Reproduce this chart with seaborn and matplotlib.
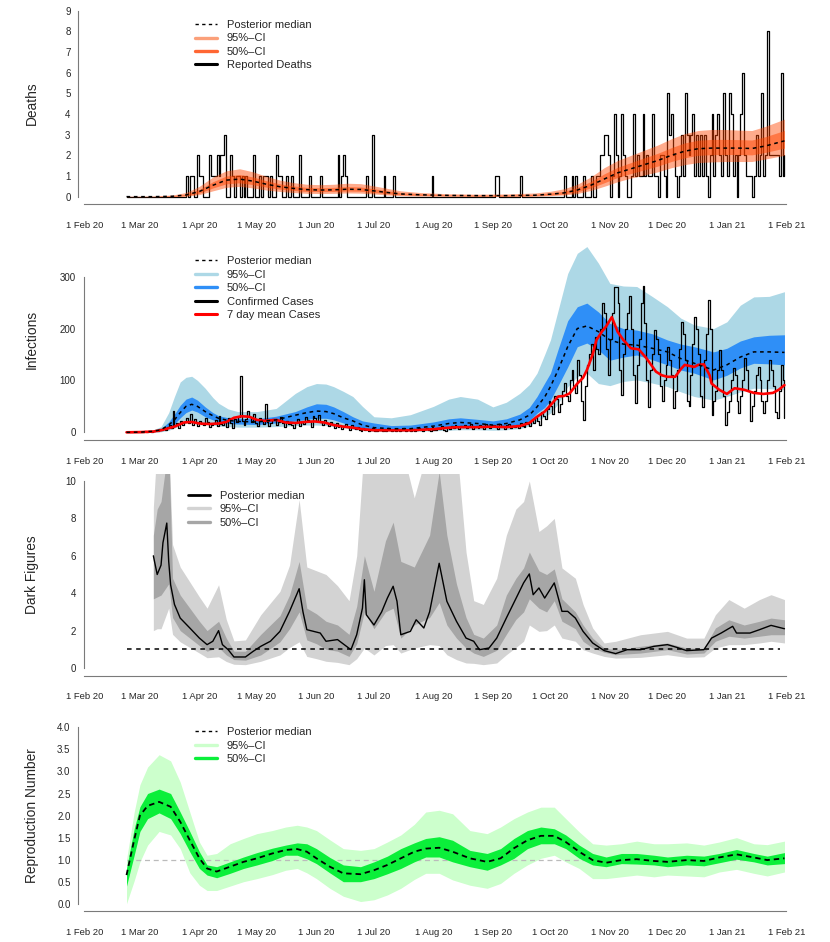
import matplotlib
matplotlib.use("Agg")
import matplotlib.pyplot as plt
import matplotlib.dates as mdates
from matplotlib.lines import Line2D
import numpy as np
import pandas as pd
import seaborn as sns

sns.set_style("white")
plt.rcParams["font.family"] = ["Liberation Sans", "DejaVu Sans"]

# x values are days since 1 Feb 2020
START = pd.Timestamp("2020-02-01")

# ---- Deaths panel ----
deaths_reported = [  # daily, from 23 Feb 2020
    0, 0, 0, 0, 0, 0, 0, 0, 0, 0, 0, 0, 0, 0, 0, 0, 0, 0, 0, 0, 0, 0, 0, 0, 0, 0, 0, 0, 0, 0, 0,
    1, 0, 1, 1, 0, 0, 2, 1, 1, 0, 0, 0, 2, 1, 1, 1, 2, 1, 2, 2, 3, 0, 0, 2, 1, 0, 1, 1, 0, 1,
    0, 1, 0, 0, 0, 2, 0, 0, 1,
    0, 1, 1, 1, 0, 1, 0, 0, 2, 1, 1, 0, 0, 1, 0, 0, 1, 0, 0, 0,
    2, 0, 0, 0, 0, 1, 0, 0, 0, 0, 0, 1, 0, 0, 0, 0, 0, 0, 0, 0,
    2, 0, 1, 2, 1, 0, 0, 0, 0, 0, 0, 0, 0, 0, 0, 1, 0, 0, 3, 0,
    0, 0, 0, 0, 1, 0, 0, 0, 0, 1, 0, 0, 0, 0, 0, 0, 0, 0, 0, 0,
    0, 0, 0, 0, 0, 0, 0, 0, 0, 1, 0, 0, 0, 0, 0, 0, 0, 0, 0, 0,
    0, 0, 0, 0, 0, 0, 0, 0, 0, 0, 0, 0, 0, 0, 0, 0, 0, 0, 0, 0,
    0, 0, 1, 1, 0, 0, 0, 0, 0, 0, 0, 0, 0, 0, 0, 1, 0, 0, 0, 0,
    0, 0, 0, 0, 0, 0, 0, 0, 0, 0, 0, 0, 0, 0, 0, 0, 0, 0, 1, 0,
    0, 0, 1, 0, 1, 0, 0, 0, 1, 0, 0, 0, 1, 0,
    0, 1, 1, 2, 2, 3, 3, 2, 0, 1, 4, 2, 0, 1, 4, 2, 1, 0, 0, 1,
    4, 1, 2, 1, 1, 4, 1, 2, 1, 1, 4, 1, 1, 0, 2, 2, 1, 0, 5, 3,
    4, 2, 1, 0, 1, 3, 1, 5, 3, 2, 3, 4, 1, 3, 1, 3, 1, 3, 1, 0,
    2, 4, 1, 3, 4, 2, 1, 5, 2, 1, 5, 4, 1, 2, 0, 2, 4, 6, 2, 1,
    1, 1, 0, 1, 3, 1, 2, 5, 1, 2, 8, 2, 2, 2, 2, 2, 1, 6, 1, 2,
]
death_days = [22, 36, 46, 53, 60, 67, 74, 81, 88, 95, 102, 109, 116, 123, 130, 137, 144,
              151, 158, 165, 175, 190, 205, 220, 235, 243, 250, 257, 264, 271, 278, 285,
              292, 299, 306, 313, 320, 327, 334, 341, 348, 355, 365]
death_med = [0.0, 0.0, 0.02, 0.08, 0.25, 0.55, 0.8, 0.85, 0.75, 0.6, 0.48, 0.4, 0.34, 0.32,
             0.33, 0.36, 0.35, 0.28, 0.2, 0.13, 0.09, 0.06, 0.05, 0.05, 0.07, 0.12, 0.18,
             0.32, 0.55, 0.85, 1.15, 1.35, 1.55, 1.75, 2.0, 2.2, 2.32, 2.35, 2.35, 2.35,
             2.33, 2.45, 2.7]
death_hi95 = [0.02, 0.03, 0.08, 0.2, 0.5, 0.95, 1.25, 1.35, 1.2, 0.98, 0.8, 0.68, 0.6, 0.58,
              0.6, 0.65, 0.63, 0.52, 0.4, 0.28, 0.2, 0.14, 0.12, 0.13, 0.18, 0.26, 0.38,
              0.6, 0.95, 1.4, 1.75, 2.0, 2.25, 2.5, 2.8, 3.05, 3.2, 3.25, 3.25, 3.22, 3.2,
              3.4, 3.75]
death_lo95 = [0.0, 0.0, 0.0, 0.02, 0.1, 0.28, 0.45, 0.5, 0.42, 0.32, 0.25, 0.2, 0.16, 0.15,
              0.16, 0.18, 0.17, 0.13, 0.08, 0.05, 0.03, 0.02, 0.01, 0.01, 0.02, 0.05, 0.08,
              0.15, 0.3, 0.5, 0.72, 0.9, 1.05, 1.2, 1.4, 1.55, 1.65, 1.68, 1.7, 1.7, 1.7,
              1.82, 2.0]
death_hi50 = [0.01, 0.01, 0.04, 0.12, 0.35, 0.72, 1.0, 1.07, 0.95, 0.77, 0.62, 0.52, 0.45,
              0.43, 0.45, 0.49, 0.47, 0.38, 0.29, 0.19, 0.14, 0.09, 0.08, 0.08, 0.11, 0.18,
              0.26, 0.44, 0.73, 1.1, 1.42, 1.65, 1.88, 2.1, 2.37, 2.6, 2.73, 2.77, 2.77,
              2.76, 2.74, 2.9, 3.2]
death_lo50 = [0.0, 0.0, 0.01, 0.05, 0.17, 0.42, 0.62, 0.67, 0.58, 0.46, 0.36, 0.3, 0.25,
              0.24, 0.25, 0.27, 0.26, 0.2, 0.14, 0.09, 0.06, 0.04, 0.03, 0.03, 0.05, 0.08,
              0.13, 0.23, 0.42, 0.67, 0.93, 1.12, 1.3, 1.48, 1.7, 1.88, 2.0, 2.03, 2.04,
              2.04, 2.02, 2.14, 2.35]

# ---- Infections panel ----
cases_confirmed = [  # daily, from 23 Feb 2020, one row per week
    0, 0, 0, 0, 1, 0, 0,
    1, 0, 2, 1, 3, 2, 1,
    3, 5, 2, 6, 4, 8, 5,
    10, 14, 8, 41, 12, 18, 9,
    22, 15, 20, 28, 18, 35, 14,
    25, 18, 12, 22, 16, 14, 28,
    20, 10, 15, 18, 24, 12, 32,
    16, 14, 22, 10, 28, 18, 8,
    25, 20, 30, 108, 22, 14, 26,
    42, 30, 20, 35, 18, 12, 28,
    22, 16, 55, 20, 12, 18, 26,
    24, 14, 20, 30, 18, 10, 22,
    16, 20, 14, 8, 18, 26, 12,
    20, 16, 30, 24, 22, 10, 32,
    28, 22, 33, 20, 14, 24, 18,
    12, 20, 16, 8, 18, 10, 14,
    6, 12, 16, 10, 4, 14, 8,
    6, 10, 4, 2, 8, 4, 6,
    2, 4, 8, 3, 2, 6, 4,
    2, 6, 3, 8, 4, 2, 5,
    3, 6, 2, 4, 8, 3, 5,
    4, 2, 6, 3, 5, 8, 4,
    3, 6, 8, 4, 2, 10, 5,
    4, 8, 6, 12, 5, 3, 9,
    7, 12, 8, 14, 10, 6, 12,
    10, 15, 8, 12, 16, 6, 10,
    12, 8, 14, 10, 6, 16, 12,
    8, 12, 14, 10, 6, 16, 10,
    12, 6, 14, 16, 8, 12, 10,
    14, 8, 18, 12, 10, 20, 16,
    12, 24, 18, 30, 22, 14, 40,
    32, 25, 45, 60, 50, 35, 70,
    65, 40, 55, 80, 95, 70, 60,
    100, 120, 90, 75, 140, 110, 60,
    24, 90, 130, 150, 170, 120, 184,
    160, 150, 200, 249, 230, 160, 110,
    180, 230, 280, 280, 250, 120, 72,
    150, 200, 230, 263, 200, 110, 56,
    130, 180, 250, 282, 210, 100, 49,
    120, 150, 197, 180, 150, 90, 60,
    100, 130, 165, 140, 110, 46, 80,
    120, 160, 213, 190, 140, 60, 50,
    110, 170, 222, 200, 150, 70, 49,
    140, 190, 255, 200, 33, 60, 80,
    120, 159, 120, 70, 14, 40, 60,
    100, 123, 110, 60, 37, 70, 100,
    143, 120, 80, 22, 50, 80, 110,
    126, 100, 60, 37, 60, 100, 139,
    120, 90, 40, 27, 80, 130, 100,
    27,
]
mean7_days = [22, 30, 36, 40, 44, 47, 52, 56, 60, 65, 70, 74, 78, 82, 86, 90, 94, 100, 105,
              110, 115, 120, 125, 130, 135, 140, 145, 151, 160, 170, 182, 190, 196, 205,
              213, 220, 227, 232, 236, 240, 243, 247, 250, 253, 257, 260, 262, 265, 267,
              270, 272, 275, 278, 281, 285, 289, 293, 298, 301, 304, 308, 311, 313, 318,
              320, 323, 326, 327, 331, 335, 339, 344, 349, 354, 359, 362, 365]
mean7_cases = [0, 0.5, 1.5, 4, 8, 11, 19, 20, 17, 16, 17, 20, 28, 31, 30, 24, 22, 24, 19,
               18, 20, 21, 19, 14, 11, 9, 6, 4, 4, 4, 6, 9, 10, 10, 11, 10, 12, 18, 30, 40,
               52, 69, 70, 75, 94, 105, 120, 150, 178, 195, 204, 222, 194, 178, 162, 160,
               143, 117, 110, 107, 107, 122, 130, 126, 130, 131, 110, 94, 82, 74, 85, 82,
               76, 74, 76, 82, 91]
inf_days = [22, 30, 36, 40, 44, 47, 50, 53, 56, 59, 63, 67, 70, 75, 80, 90, 100, 110, 116,
            121, 126, 130, 135, 140, 145, 151, 160, 170, 182, 190, 196, 205, 213, 220, 227,
            232, 236, 240, 243, 247, 252, 257, 262, 268, 274, 281, 288, 296, 304, 311, 318,
            328, 335, 342, 349, 357, 365]
inf_med = [0, 0.5, 2, 5, 14, 24, 38, 50, 54, 50, 40, 32, 27, 23, 21, 20, 24, 33, 38, 41,
           40, 36, 28, 22, 14, 9, 7, 7, 12, 17, 19, 17, 14, 17, 24, 33, 49, 68, 88, 120,
           165, 200, 205, 194, 178, 170, 168, 162, 155, 142, 133, 120, 130, 145, 155, 155,
           154]
inf_lo50 = [0, 0.3, 1, 3, 9, 16, 28, 38, 43, 39, 30, 24, 20, 17, 16, 15, 18, 22, 25, 27,
            27, 24, 18, 12, 8, 5, 4, 4, 7, 10, 12, 11, 9, 11, 15, 22, 37, 48, 62, 90, 126,
            165, 172, 159, 139, 145, 149, 140, 130, 120, 114, 101, 110, 124, 133, 132, 130]
inf_hi50 = [0, 1, 3, 7, 20, 35, 52, 64, 68, 62, 49, 38, 32, 28, 27, 26, 31, 40, 49, 55, 54,
            49, 40, 30, 22, 18, 13, 14, 20, 26, 28, 25, 22, 26, 35, 48, 69, 95, 114, 160,
            215, 242, 249, 232, 210, 200, 197, 190, 178, 170, 165, 155, 162, 176, 184, 187,
            188]
inf_lo95 = [0, 0.1, 0.5, 1, 4, 8, 14, 19, 22, 20, 17, 14, 12, 11, 10, 10, 11, 13, 14, 14,
            13, 11, 9, 6, 4, 2, 2, 2, 3, 4, 5, 5, 4, 5, 7, 12, 22, 30, 37, 55, 88, 107, 114,
            94, 90, 98, 101, 95, 88, 78, 69, 62, 69, 78, 85, 84, 82]
inf_hi95 = [0, 2, 5, 11, 38, 69, 97, 106, 108, 100, 85, 67, 56, 45, 40, 40, 46, 75, 88, 94,
            93, 88, 79, 69, 50, 30, 28, 34, 50, 64, 69, 64, 49, 58, 75, 92, 114, 150, 178,
            235, 306, 345, 358, 326, 287, 282, 281, 262, 242, 220, 207, 200, 213, 245, 261,
            262, 271]

# ---- Dark figures panel ----
dark_days = [36, 38, 40, 41, 43, 44, 45, 47, 50, 55, 60, 64, 67, 70, 72, 75, 78, 84, 88, 92,
             97, 102, 107, 112, 114, 116, 123, 126, 132, 139, 142, 145, 146, 147, 151, 155,
             158, 161, 163, 165, 170, 173, 177, 180, 185, 189, 194, 199, 203, 206, 211, 215,
             220, 226, 229, 232, 234, 237, 240, 245, 249, 252, 256, 260, 265, 271, 277, 283,
             290, 297, 304, 309, 314, 323, 327, 332, 338, 340, 347, 352, 358, 365]
dark_med = [6.0, 5.0, 5.5, 6.7, 7.75, 5.7, 4.45, 3.4, 2.67, 2.14, 1.6, 1.25, 1.43, 2.0, 1.25,
            0.98, 0.59, 0.59, 0.89, 1.16, 1.43, 1.96, 3.03, 4.24, 3.0, 2.05, 1.87, 1.43, 1.52,
            0.98, 1.78, 3.2, 4.72, 2.85, 2.3, 3.0, 3.74, 4.37, 3.57, 1.78, 1.96, 2.58, 2.14,
            3.0, 5.6, 3.57, 2.5, 1.6, 1.43, 0.98, 1.07, 1.6, 2.67, 3.92, 4.55, 5.03, 3.92,
            4.28, 3.74, 4.55, 3.03, 3.03, 2.67, 1.96, 1.34, 0.93, 0.77, 0.98, 0.98, 1.16,
            1.25, 1.1, 0.93, 0.98, 1.6, 1.87, 2.23, 1.87, 1.87, 2.05, 2.28, 2.1]
dark_band_days = [36, 38, 40, 44, 46, 50, 55, 60, 64, 70, 74, 78, 84, 92, 102, 107, 112, 116,
                  121, 126, 132, 138, 142, 146, 151, 157, 161, 165, 172, 180, 185, 189, 194,
                  199, 203, 208, 215, 220, 225, 229, 232, 237, 241, 245, 249, 256, 260, 265,
                  271, 277, 290, 304, 314, 323, 329, 336, 344, 352, 358, 365]
dark_hi95 = [8.6, 12, 12, 12, 6.6, 5.4, 4.6, 3.8, 3.2, 4.45, 2.6, 1.45, 1.5, 2.85, 4.1, 5.5,
             9.0, 5.4, 5.2, 5.0, 4.4, 3.6, 6.0, 12, 12, 12, 12, 12, 9.1, 12, 12, 12, 12, 6.2,
             3.6, 3.4, 4.8, 7.1, 8.5, 8.9, 10.0, 7.3, 7.6, 8.0, 5.35, 4.8, 3.4, 2.14, 1.34,
             1.43, 1.78, 1.96, 1.6, 1.6, 2.85, 3.66, 3.2, 3.66, 3.92, 3.66]
dark_hi50 = [7.1, 8.5, 8.9, 12, 4.8, 3.9, 3.2, 2.5, 2.0, 2.5, 1.6, 0.9, 0.9, 1.8, 2.8, 3.9,
             5.7, 3.2, 2.9, 2.5, 2.3, 1.8, 3.3, 6.0, 4.1, 6.8, 7.8, 5.7, 5.4, 7.1, 10.5, 7.1,
             4.5, 2.7, 1.8, 1.6, 2.3, 3.9, 4.8, 5.35, 6.2, 5.2, 5.0, 5.3, 3.7, 3.0, 2.3, 1.6,
             1.07, 0.98, 1.16, 1.34, 1.07, 1.05, 2.14, 2.58, 2.3, 2.5, 2.67, 2.58]
dark_lo50 = [3.7, 3.8, 3.9, 4.5, 2.7, 2.0, 1.6, 1.2, 0.9, 1.1, 0.7, 0.45, 0.42, 0.7, 1.4, 2.1,
             3.0, 1.5, 1.3, 1.0, 0.9, 0.62, 1.3, 3.0, 2.1, 3.0, 3.2, 1.6, 2.3, 2.7, 3.5, 2.3,
             1.6, 1.07, 0.8, 0.62, 0.95, 1.8, 2.6, 3.0, 3.7, 3.2, 3.0, 3.6, 2.5, 2.1, 1.43,
             1.07, 0.84, 0.71, 0.8, 0.98, 0.75, 0.8, 1.43, 1.7, 1.6, 1.7, 1.78, 1.78]
dark_lo95 = [2.0, 2.1, 2.1, 3.2, 1.8, 1.4, 1.1, 0.8, 0.55, 0.6, 0.35, 0.2, 0.18, 0.36, 0.7,
             1.1, 1.4, 0.62, 0.5, 0.36, 0.3, 0.18, 0.5, 1.07, 0.7, 1.2, 1.25, 0.8, 1.07, 1.25,
             1.2, 0.71, 0.45, 0.27, 0.25, 0.18, 0.27, 0.71, 1.1, 1.43, 2.3, 1.96, 2.0, 2.3,
             1.6, 1.43, 0.98, 0.8, 0.62, 0.53, 0.57, 0.71, 0.57, 0.6, 1.07, 1.25, 1.25, 1.34,
             1.43, 1.34]

# ---- Reproduction number panel ----
r_days = [22, 26, 29, 33, 39, 45, 50, 55, 60, 64, 69, 76, 83, 90, 98, 105, 111, 116, 121,
          128, 135, 144, 151, 158, 165, 172, 178, 185, 192, 201, 210, 217, 224, 231, 238,
          245, 251, 258, 265, 272, 280, 288, 297, 304, 314, 323, 331, 340, 349, 356, 365]
r_med = [0.65, 1.45, 2.0, 2.22, 2.31, 2.2, 1.86, 1.44, 1.03, 0.8, 0.73, 0.84, 0.95, 1.03,
         1.14, 1.22, 1.24, 1.18, 1.03, 0.84, 0.69, 0.67, 0.76, 0.88, 1.03, 1.18, 1.25, 1.27,
         1.18, 1.03, 0.95, 1.03, 1.26, 1.44, 1.54, 1.54, 1.4, 1.18, 0.99, 0.93, 0.99, 1.01,
         0.97, 0.95, 0.99, 0.97, 1.05, 1.12, 1.05, 0.99, 1.03]
r_hi95 = [1.0, 2.08, 2.7, 3.1, 3.38, 3.24, 2.76, 2.08, 1.4, 1.1, 1.14, 1.36, 1.48, 1.59,
          1.66, 1.74, 1.78, 1.74, 1.66, 1.45, 1.25, 1.21, 1.25, 1.4, 1.56, 1.8, 2.08, 2.12,
          2.04, 1.66, 1.59, 1.74, 1.93, 2.08, 2.19, 2.19, 1.93, 1.63, 1.36, 1.33, 1.36,
          1.42, 1.36, 1.36, 1.38, 1.33, 1.4, 1.5, 1.36, 1.34, 1.42]
r_hi50 = [0.8, 1.7, 2.2, 2.5, 2.6, 2.5, 2.08, 1.64, 1.18, 0.88, 0.84, 0.95, 1.06, 1.16, 1.26,
          1.33, 1.38, 1.36, 1.25, 1.05, 0.88, 0.84, 0.95, 1.08, 1.25, 1.38, 1.48, 1.52, 1.44,
          1.21, 1.14, 1.25, 1.48, 1.66, 1.74, 1.7, 1.56, 1.33, 1.14, 1.06, 1.14, 1.14, 1.1,
          1.06, 1.1, 1.08, 1.14, 1.23, 1.14, 1.08, 1.16]
r_lo50 = [0.4, 1.1, 1.64, 1.93, 2.06, 1.93, 1.59, 1.18, 0.8, 0.65, 0.59, 0.69, 0.8, 0.88,
          0.98, 1.1, 1.1, 1.02, 0.91, 0.7, 0.5, 0.5, 0.57, 0.68, 0.8, 0.95, 1.06, 1.06, 0.95,
          0.84, 0.76, 0.88, 1.03, 1.25, 1.36, 1.36, 1.25, 1.03, 0.88, 0.84, 0.91, 0.9, 0.88,
          0.84, 0.88, 0.86, 0.93, 1.01, 0.95, 0.88, 0.91]
r_lo95 = [0.0, 0.52, 0.95, 1.33, 1.64, 1.56, 1.25, 0.7, 0.42, 0.3, 0.3, 0.4, 0.5, 0.57, 0.66,
          0.76, 0.8, 0.7, 0.57, 0.35, 0.17, 0.05, 0.09, 0.2, 0.35, 0.55, 0.69, 0.69, 0.54,
          0.42, 0.35, 0.46, 0.69, 0.88, 1.03, 1.1, 0.95, 0.8, 0.57, 0.57, 0.61, 0.65, 0.61,
          0.65, 0.63, 0.61, 0.72, 0.78, 0.69, 0.63, 0.72]

month_ticks = pd.date_range("2020-02-01", "2021-02-01", freq="MS")
month_labels = [f"{d.day} {d:%b %y}" for d in month_ticks]


def to_dates(days):
    return START + pd.to_timedelta(np.asarray(days, dtype=float), unit="D")


W, H = 830, 942
fig = plt.figure(figsize=(W / 100, H / 100), dpi=100)
left, width = 78.3 / W, 735.7 / W
ax1 = fig.add_axes([left, 1 - 204.1 / H, width, 200.9 / H])
ax2 = fig.add_axes([left, 1 - 440.0 / H, width, 200.7 / H])
ax3 = fig.add_axes([left, 1 - 675.5 / H, width, 202.0 / H])
ax4 = fig.add_axes([left, 1 - 910.8 / H, width, 190.5 / H])

AXCOL = "#7a7a7a"
DASH = (0, (2.4, 2.4))


def style_axis(ax, yticks, ylim, ylabel, ylabels=None, spine_day=None):
    ax.set_xlim(START - pd.Timedelta(days=3.13), START + pd.Timedelta(days=380.4))
    ax.set_ylim(*ylim)
    ax.set_xticks(month_ticks)
    ax.set_xticklabels(month_labels)
    ax.set_yticks(yticks)
    if ylabels is not None:
        ax.set_yticklabels(ylabels)
    for s in ["top", "right"]:
        ax.spines[s].set_visible(False)
    for s in ["left", "bottom"]:
        ax.spines[s].set_color(AXCOL)
        ax.spines[s].set_linewidth(0.8)
    ax.spines["bottom"].set_bounds(mdates.date2num(month_ticks[0]), mdates.date2num(month_ticks[-1]))
    ax.spines["left"].set_bounds(yticks[0], yticks[-1])
    if spine_day is not None:
        ax.spines["left"].set_position(("data", mdates.date2num(START + pd.Timedelta(days=spine_day))))
    ax.tick_params(axis="x", length=4.8, width=0.8, color=AXCOL, pad=7.4, labelsize=6.8)
    ax.tick_params(axis="y", length=4.1, width=0.8, color=AXCOL, pad=1.5, labelsize=7.0)
    ax.set_xlabel("")
    ax.set_ylabel(ylabel, fontsize=9.9)
    ax.yaxis.set_label_coords(-0.054, 0.5)
    ax.grid(False)


def add_legend(ax, handles, labels, x_px, y_px):
    ax.legend(handles, labels, loc="upper left", bbox_to_anchor=(x_px / W, 1 - y_px / H),
              bbox_transform=fig.transFigure, frameon=False, fontsize=8, handlelength=1.95,
              handletextpad=0.9, labelspacing=0.31, borderpad=0, borderaxespad=0)


# Deaths
ORANGE = "#FF4500"
sns.lineplot(x=to_dates(np.arange(22, 22 + len(deaths_reported))), y=deaths_reported, ax=ax1,
             drawstyle="steps-post", color="black", lw=0.9, errorbar=None, zorder=1)
dd = to_dates(death_days)
ax1.fill_between(dd, death_lo95, death_hi95, color=ORANGE, alpha=0.45, lw=0, zorder=1.5)
ax1.fill_between(dd, death_lo50, death_hi50, color=ORANGE, alpha=0.5, lw=0, zorder=1.6)
ax1.plot(dd, death_med, color="black", lw=1.1, ls=DASH, zorder=3)
style_axis(ax1, list(range(0, 10)), (-0.36, 9.36), "Deaths")
add_legend(ax1,
           [Line2D([], [], color="black", lw=1, ls=DASH),
            Line2D([], [], color="#FBA07A", lw=2.4),
            Line2D([], [], color="#FF6633", lw=2.4),
            Line2D([], [], color="black", lw=2.2)],
           ["Posterior median", "95%\u2013CI", "50%\u2013CI", "Reported Deaths"], 195, 20.0)

# Infections
idd = to_dates(inf_days)
ax2.fill_between(idd, inf_lo95, inf_hi95, color="#ADD8E6", lw=0, zorder=1)
ax2.fill_between(idd, inf_lo50, inf_hi50, color="#2F8FF7", lw=0, zorder=1.1)
sns.lineplot(x=to_dates(np.arange(22, 22 + len(cases_confirmed))), y=cases_confirmed, ax=ax2,
             drawstyle="steps-post", color="black", lw=0.9, errorbar=None, zorder=2)
sns.lineplot(x=to_dates(mean7_days), y=mean7_cases, ax=ax2, color="#FF0000", lw=1.9,
             errorbar=None, zorder=2.5)
ax2.plot(idd, inf_med, color="black", lw=1.1, ls=DASH, zorder=3)
style_axis(ax2, [0, 100, 200, 300], (-14.8, 372), "Infections", spine_day=-0.4)
add_legend(ax2,
           [Line2D([], [], color="black", lw=1, ls=DASH),
            Line2D([], [], color="#ADD8E6", lw=2.4),
            Line2D([], [], color="#2F8FF7", lw=2.4),
            Line2D([], [], color="black", lw=2.2),
            Line2D([], [], color="#FF0000", lw=2.2)],
           ["Posterior median", "95%\u2013CI", "50%\u2013CI", "Confirmed Cases", "7 day mean Cases"],
           195, 256.2)

# Dark figures
bd = to_dates(dark_band_days)
rd = to_dates(r_days)
ax3.fill_between(bd, dark_lo95, dark_hi95, color="#D3D3D3", lw=0, zorder=1)
ax3.fill_between(bd, dark_lo50, dark_hi50, color="#A6A6A6", lw=0, zorder=1.1)
ax3.hlines(1, rd[0], to_dates([362.6])[0], colors="black", lw=1.1, linestyles=(0, (3, 3)), zorder=2)
sns.lineplot(x=to_dates(dark_days), y=dark_med, ax=ax3, color="black", lw=1.0, errorbar=None,
             zorder=3)
style_axis(ax3, [0, 2, 4, 6, 8, 10], (-0.4, 10.4), "Dark Figures", spine_day=-0.4)
add_legend(ax3,
           [Line2D([], [], color="black", lw=2.0),
            Line2D([], [], color="#D3D3D3", lw=2.4),
            Line2D([], [], color="#A6A6A6", lw=2.4)],
           ["Posterior median", "95%\u2013CI", "50%\u2013CI"], 188.3, 490.9)

# Reproduction number
ax4.fill_between(rd, r_lo95, r_hi95, color="#CCFFCC", lw=0, zorder=1)
ax4.fill_between(rd, r_lo50, r_hi50, color="#0BEF3A", lw=0, zorder=1.1)
ax4.hlines(1, rd[0], rd[-1], colors="#BBBBBB", lw=0.9, linestyles=(0, (4, 3)), zorder=1.05)
ax4.plot(rd, r_med, color="black", lw=1.3, ls=(0, (3, 2.2)), zorder=3)
r_ticks = [0, 0.5, 1, 1.5, 2, 2.5, 3, 3.5, 4]
style_axis(ax4, r_ticks, (-0.16, 4.16), "Reproduction Number",
           ylabels=[f"{t:.1f}" for t in r_ticks])
add_legend(ax4,
           [Line2D([], [], color="black", lw=1, ls=DASH),
            Line2D([], [], color="#CCFFCC", lw=2.4),
            Line2D([], [], color="#0BEF3A", lw=2.4)],
           ["Posterior median", "95%\u2013CI", "50%\u2013CI"], 195, 727.2)

fig.savefig("out.png", dpi=100)
